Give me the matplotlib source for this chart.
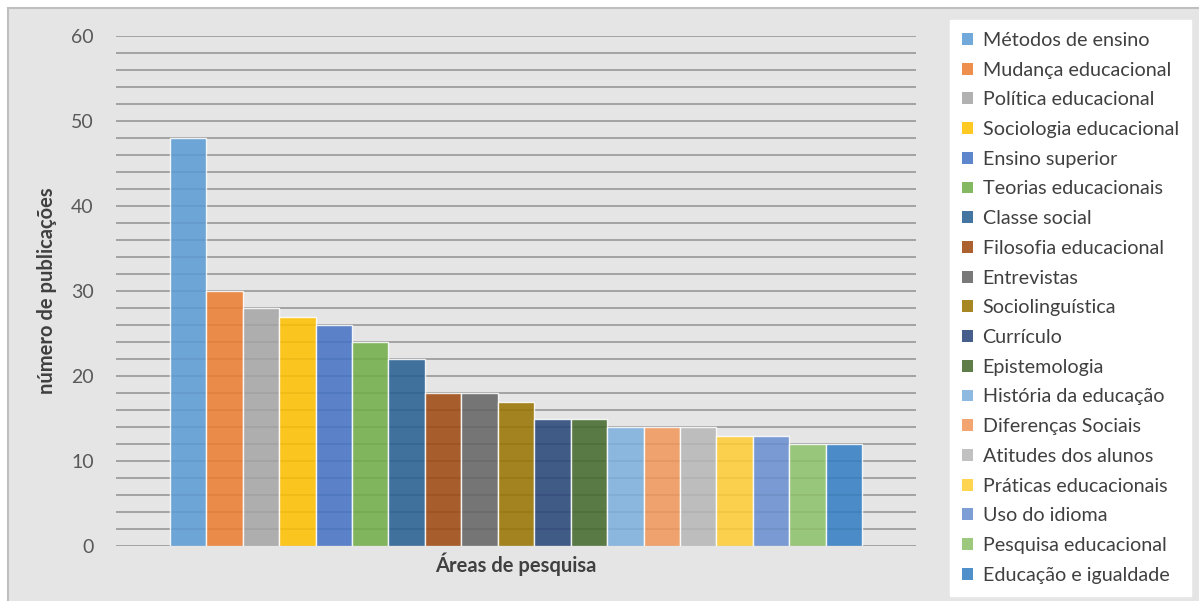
import matplotlib
matplotlib.use('Agg')
import matplotlib.pyplot as plt
from matplotlib.patches import Rectangle, Patch
import numpy as np

plt.rcParams['font.family'] = ['Lato', 'DejaVu Sans']

# research areas and number of publications
areas = ['Métodos de ensino', 'Mudança educacional', 'Política educacional',
         'Sociologia educacional', 'Ensino superior', 'Teorias educacionais',
         'Classe social', 'Filosofia educacional', 'Entrevistas',
         'Sociolinguística', 'Currículo', 'Epistemologia',
         'História da educação', 'Diferenças Sociais', 'Atitudes dos alunos',
         'Práticas educacionais', 'Uso do idioma', 'Pesquisa educacional',
         'Educação e igualdade']
counts = [48, 30, 28, 27, 26, 24, 22, 18, 18, 17, 15, 15, 14, 14, 14, 13, 13, 12, 12]

colors = ['#5B9BD5', '#ED7D31', '#A5A5A5', '#FFC000', '#4472C4', '#70AD47',
          '#255E91', '#9E480E', '#636363', '#997300', '#264478', '#43682B',
          '#7CAFDD', '#F1975A', '#B7B7B7', '#FFCD33', '#698ED0', '#8CC168',
          '#327DC2']

BG = '#e5e5e5'
TXT = '#404040'

fig = plt.figure(figsize=(11.99, 6.01), dpi=100)
fig.patch.set_facecolor('white')
# chart area panel with thin frame
fig.patches.append(Rectangle((8 / 1199, -0.01), 1.0, 1 - 8 / 601 + 0.01,
                             transform=fig.transFigure, facecolor=BG,
                             edgecolor='#bfbfbf', linewidth=1.5, zorder=-10))

ax = fig.add_axes([116 / 1199, 1 - 546 / 601, 800 / 1199, 510 / 601])
ax.set_facecolor('none')

x = np.arange(len(counts))
for i, (v, c) in enumerate(zip(counts, colors)):
    ax.bar(x[i], v, width=1.0, color=c, alpha=0.86,
           edgecolor=(1, 1, 1, 0.45), linewidth=1.0, zorder=2)

ax.set_ylim(0, 60)
ax.set_xlim(-0.5 - 1.48, len(counts) - 0.5 + 1.48)
ax.set_yticks(np.arange(0, 61, 10))
ax.set_yticks(np.arange(0, 61, 2), minor=True)
ax.grid(True, which='both', axis='y', color='#a3a3a3', linewidth=1.4, zorder=1)
ax.set_axisbelow(True)
ax.set_xticks([])
for s in ax.spines.values():
    s.set_visible(False)
ax.tick_params(axis='y', which='both', length=0, pad=16,
               labelsize=14, labelcolor='#595959')

ax.set_ylabel('número de publicações', fontsize=14.5, fontweight='bold',
              color=TXT, labelpad=10)
ax.set_xlabel('Áreas de pesquisa', fontsize=14.5, fontweight='bold',
              color=TXT, labelpad=5)

handles = [Patch(facecolor=c, alpha=0.86, edgecolor='none') for c in colors]
leg = fig.legend(handles, areas, loc='upper left',
                 bbox_to_anchor=(950 / 1199, 1 - 20 / 601),
                 frameon=True, fancybox=False, framealpha=1, fontsize=14.2,
                 handlelength=0.55, handleheight=0.55, handletextpad=0.5,
                 labelspacing=0.645, borderpad=0.6, borderaxespad=0)
leg.get_frame().set_facecolor('white')
leg.get_frame().set_edgecolor('white')
for t in leg.get_texts():
    t.set_color(TXT)

fig.savefig('out.png', dpi=100, facecolor=fig.get_facecolor())
